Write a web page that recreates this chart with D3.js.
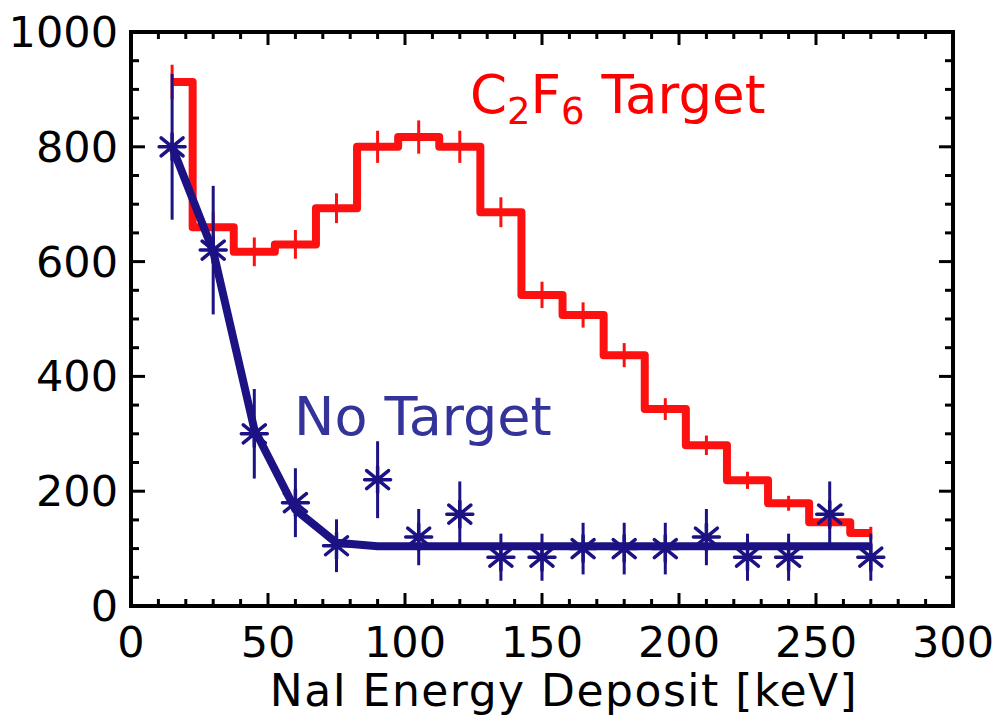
<!DOCTYPE html>
<html>
<head>
<meta charset="utf-8">
<script src="https://cdn.jsdelivr.net/npm/d3@7"></script>
<style>
  body { margin: 0; background: #fff; }
  svg text { font-family: "DejaVu Sans", sans-serif; }
</style>
</head>
<body>
<svg id="chart" width="996" height="717"></svg>
<script>
// energy bin centres (keV)
var energies = [15, 30, 45, 60, 75, 90, 105, 120, 135, 150, 165, 180, 195, 210, 225, 240, 255, 270];

// C2F6 target histogram + errors
var targetCounts = [913, 660, 617, 630, 693, 800, 817, 800, 686, 542, 507, 437, 343, 280, 219, 179, 146, 127];
var targetErr    = [30, 26, 25, 25, 26, 28, 29, 28, 26, 23, 22, 21, 19, 17, 15, 13, 12, 11];

// no target points + errors
var emptyCounts = [800, 620, 300, 180, 105, 220, 120, 160, 85, 85, 100, 100, 100, 120, 85, 85, 160, 85];
var emptyErr    = [127, 112, 78, 60, 46, 67, 49, 57, 41, 41, 45, 45, 45, 49, 41, 41, 57, 41];

// fit through no-target data
var fitCounts = [800, 618, 308, 168, 110, 104, 104, 104, 104, 104, 104, 104, 104, 104, 104, 104, 104, 104];

var xTicks = [0, 50, 100, 150, 200, 250, 300],
    yTicks = [0, 200, 400, 600, 800, 1000];

var RED = "#fc1010", NAVY = "#1c1283", LABEL_BLUE = "#333399";

function draw() {
    var svg = d3.select("#chart"),
        m = {left: 131, right: 953, top: 32, bottom: 606};

    var x = d3.scaleLinear().domain([0, 300]).range([m.left, m.right]),
        y = d3.scaleLinear().domain([0, 1000]).range([m.bottom, m.top]);

    svg.append("rect").attr("width", 996).attr("height", 717).attr("fill", "#fff");

    // ticks, inward on all four sides
    var ax = svg.append("g").attr("stroke", "#000").attr("stroke-width", 3);
    d3.range(0, 301, 10).forEach(v => {
        var len = v % 50 === 0 ? 13 : 7;
        ax.append("line").attr("x1", x(v)).attr("x2", x(v)).attr("y1", m.bottom).attr("y2", m.bottom - len);
        ax.append("line").attr("x1", x(v)).attr("x2", x(v)).attr("y1", m.top).attr("y2", m.top + len);
    });
    d3.range(0, 1001, 50).forEach(v => {
        var len = v % 200 === 0 ? 14 : 8;
        ax.append("line").attr("y1", y(v)).attr("y2", y(v)).attr("x1", m.left).attr("x2", m.left + len);
        ax.append("line").attr("y1", y(v)).attr("y2", y(v)).attr("x1", m.right).attr("x2", m.right - len);
    });

    svg.selectAll(".xt").data(xTicks).enter().append("text")
        .attr("x", d => x(d)).attr("y", 657).attr("text-anchor", "middle")
        .style("font-size", "43px").text(d => d);
    svg.selectAll(".yt").data(yTicks).enter().append("text")
        .attr("x", 118).attr("y", d => y(d) + 15).attr("text-anchor", "end")
        .style("font-size", "43px").text(d => d);

    svg.append("text").attr("x", 564).attr("y", 706).attr("text-anchor", "middle")
        .style("font-size", "44px").style("letter-spacing", "1.5px")
        .text("NaI Energy Deposit [keV]");

    // C2F6 histogram
    svg.append("path").datum(energies)
        .attr("fill", "none").attr("stroke", RED).attr("stroke-width", 8)
        .attr("stroke-linejoin", "round")
        .attr("d", d3.line().x(d => x(d)).y((d, i) => y(targetCounts[i])).curve(d3.curveStep));

    svg.append("g").attr("stroke", RED).attr("stroke-width", 3)
        .selectAll("line").data(energies).enter().append("line")
        .attr("x1", d => x(d)).attr("x2", d => x(d))
        .attr("y1", (d, i) => y(targetCounts[i] - targetErr[i]))
        .attr("y2", (d, i) => y(targetCounts[i] + targetErr[i]));

    // no-target fit
    svg.append("path").datum(energies)
        .attr("fill", "none").attr("stroke", NAVY).attr("stroke-width", 8)
        .attr("stroke-linejoin", "round")
        .attr("d", d3.line().x(d => x(d)).y((d, i) => y(fitCounts[i])));

    // no-target points
    var pts = svg.append("g").attr("stroke", NAVY).attr("stroke-width", 3.5);
    energies.forEach((e, i) => {
        var cx = x(e), cy = y(emptyCounts[i]);
        pts.append("line").attr("x1", cx).attr("x2", cx)
            .attr("y1", y(emptyCounts[i] - emptyErr[i])).attr("y2", y(emptyCounts[i] + emptyErr[i]))
            .attr("stroke-width", 3);
        pts.append("path").attr("stroke-linecap", "round")
            .attr("d", "M" + (cx - 13) + "," + cy + "H" + (cx + 13) +
                "M" + (cx - 11) + "," + (cy - 9) + "L" + (cx + 11) + "," + (cy + 9) +
                "M" + (cx - 11) + "," + (cy + 9) + "L" + (cx + 11) + "," + (cy - 9) +
                "M" + cx + "," + (cy - 13) + "V" + (cy + 13));
    });

    // frame
    svg.append("rect").attr("x", m.left).attr("y", m.top)
        .attr("width", m.right - m.left).attr("height", m.bottom - m.top)
        .attr("fill", "none").attr("stroke", "#000").attr("stroke-width", 4);

    // labels
    var lab = svg.append("text").attr("x", 470).attr("y", 113)
        .style("font-size", "53px").attr("fill", "#ff0000");
    lab.append("tspan").text("C");
    lab.append("tspan").attr("dy", 11).style("font-size", "37px").text("2");
    lab.append("tspan").attr("dy", -11).text("F");
    lab.append("tspan").attr("dy", 11).style("font-size", "37px").text("6");
    lab.append("tspan").attr("dy", -11).text(" Target");

    svg.append("text").attr("x", 294).attr("y", 435)
        .style("font-size", "54px").attr("fill", LABEL_BLUE).text("No Target");
}

draw();
</script>
</body>
</html>
